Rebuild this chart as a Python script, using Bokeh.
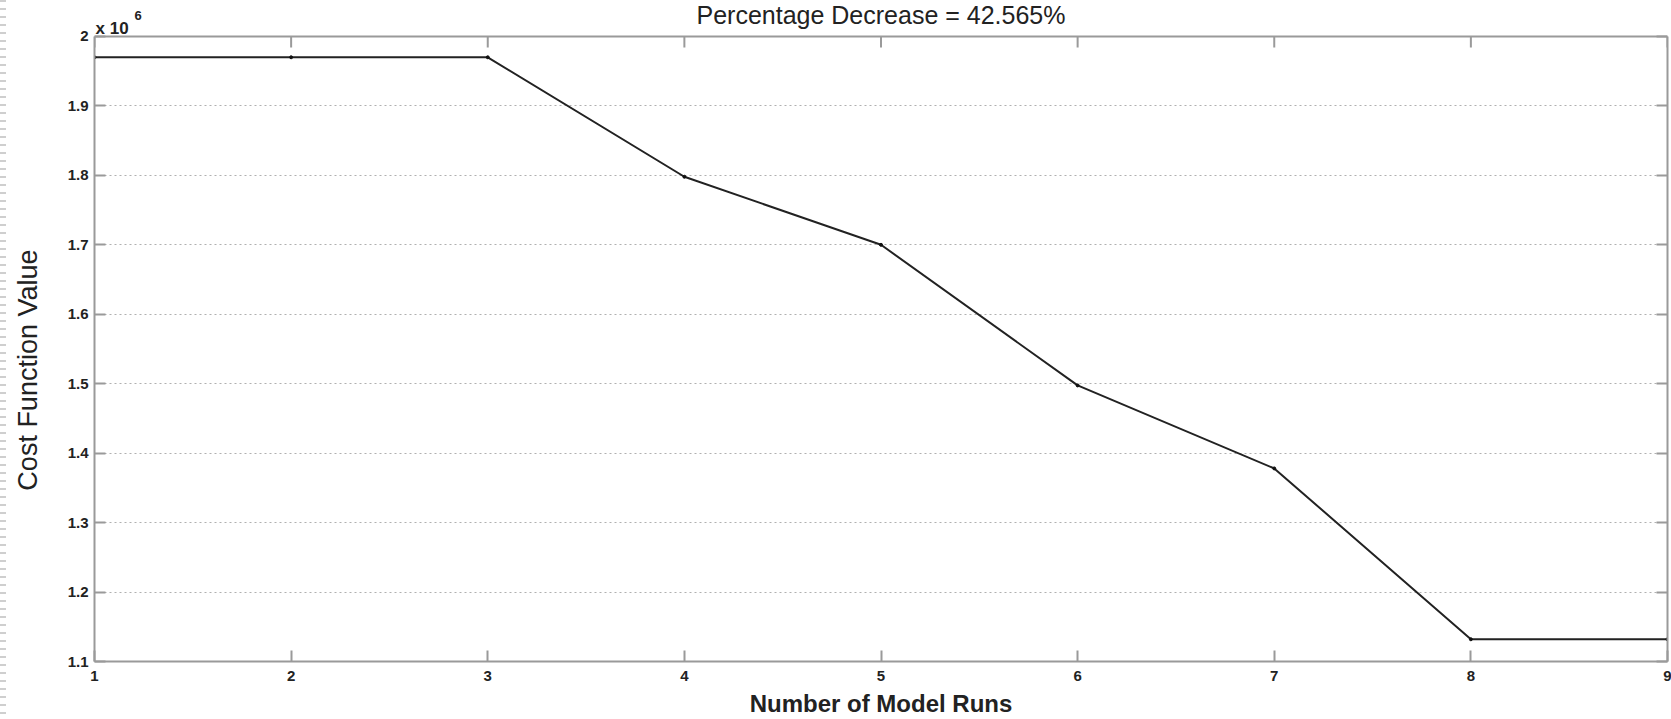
import math
from bokeh.plotting import figure
from bokeh.models import Range1d, FixedTicker, LinearAxis, Label, Div, Span
from bokeh.layouts import row
from bokeh.embed import file_html
from bokeh.resources import INLINE

# ---- data ----
model_runs = [1, 2, 3, 4, 5, 6, 7, 8, 9]
cost_values = [1.970e6, 1.970e6, 1.970e6, 1.798e6, 1.700e6, 1.4975e6, 1.378e6, 1.132e6, 1.132e6]
y_ticks = [1.1e6, 1.2e6, 1.3e6, 1.4e6, 1.5e6, 1.6e6, 1.7e6, 1.8e6, 1.9e6, 2.0e6]
y_tick_labels = ["1.1", "1.2", "1.3", "1.4", "1.5", "1.6", "1.7", "1.8", "1.9", "2"]
x_ticks = [1, 2, 3, 4, 5, 6, 7, 8, 9]
title_text = "Percentage Decrease = 42.565%"
x_label = "Number of Model Runs"
y_label = "Cost Function Value"
exponent_base = "x 10"
exponent_power = "6"

# ---- layout constants (pixels) ----
H = 719
EDGE_W = 6
LABEL_W = 50
FRAME_LEFT = 94
FRAME_H = 662          # frame spans whole top of canvas down to the x axis
AXES_TOP_PX = 36       # where the axes box top sits
y_lo, y_hi = y_ticks[0], y_ticks[-1]
per_px = (y_hi - y_lo) / (FRAME_H - AXES_TOP_PX)
y_view_top = y_hi + AXES_TOP_PX * per_px

axis_color = "#9a9a9a"
text_color = "#222222"
tick_font = "Liberation Sans"

main_w = 1671 - EDGE_W - LABEL_W
p = figure(width=main_w, height=H, output_backend="svg", toolbar_location=None,
           x_range=Range1d(x_ticks[0], x_ticks[-1]), y_range=Range1d(y_lo, y_view_top),
           x_axis_location=None, y_axis_location=None,
           min_border_left=FRAME_LEFT - EDGE_W - LABEL_W, min_border_right=4,
           min_border_top=0, min_border_bottom=H - FRAME_H)
p.outline_line_color = None

left = LinearAxis(ticker=FixedTicker(ticks=y_ticks), bounds=(y_lo, y_hi),
                  major_label_overrides={t: l for t, l in zip(y_ticks, y_tick_labels)})
bottom = LinearAxis(ticker=FixedTicker(ticks=x_ticks))
right = LinearAxis(ticker=FixedTicker(ticks=y_ticks), bounds=(y_lo, y_hi))
for ax in (left, bottom, right):
    ax.major_tick_in = 11
    ax.major_tick_out = 0
    ax.minor_tick_in = 0
    ax.minor_tick_out = 0
    ax.axis_line_color = axis_color
    ax.axis_line_width = 2
    ax.major_tick_line_color = axis_color
    ax.major_tick_line_width = 2
    ax.major_label_text_font = tick_font
    ax.major_label_text_font_style = "bold"
    ax.major_label_text_font_size = "15px"
    ax.major_label_text_color = text_color
right.major_label_text_alpha = 0
right.major_label_text_font_size = "1px"
right.major_label_standoff = 0

left.major_label_standoff = 6
bottom.major_label_standoff = 9
bottom.axis_label = x_label
bottom.axis_label_text_font = "Liberation Sans"
bottom.axis_label_text_font_size = "24px"
bottom.axis_label_text_font_style = "bold"
bottom.axis_label_text_color = text_color
bottom.axis_label_standoff = 6

p.add_layout(left, "left")
p.add_layout(bottom, "below")
p.add_layout(right, "right")

# top edge of the axes box with inward ticks
p.add_layout(Span(location=y_hi, dimension="width", line_color=axis_color, line_width=2))
p.ray(x=x_ticks, y=[y_hi] * len(x_ticks), length=11, length_units="screen",
      angle=-math.pi / 2, line_color=axis_color, line_width=2)

p.xgrid.visible = False
p.ygrid.ticker = FixedTicker(ticks=y_ticks[:-1])
p.ygrid.grid_line_color = "#b0b0b0"
p.ygrid.grid_line_dash = "2 3"
p.ygrid.grid_line_width = 1

p.line(model_runs, cost_values, line_color="#222222", line_width=2)
p.scatter(model_runs, cost_values, size=3, color="#111111")

x_mid = (x_ticks[0] + x_ticks[-1]) / 2
p.add_layout(Label(x=x_mid, y=y_hi, text=title_text, y_offset=21,
                   text_align="center", text_baseline="middle",
                   text_font="Liberation Sans", text_font_size="25px",
                   text_color=text_color))
p.add_layout(Label(x=x_ticks[0], y=y_hi, text=exponent_base, x_offset=1, y_offset=8,
                   text_baseline="middle",
                   text_font="Liberation Sans", text_font_style="bold",
                   text_font_size="17px", text_color=text_color))
p.add_layout(Label(x=x_ticks[0], y=y_hi, text=exponent_power, x_offset=40, y_offset=21,
                   text_baseline="middle",
                   text_font="Liberation Sans", text_font_style="bold",
                   text_font_size="13px", text_color=text_color))

# narrow strip holding the y-axis title
ylab = figure(width=LABEL_W, height=H, output_backend="svg", toolbar_location=None,
              x_range=Range1d(0, LABEL_W), y_range=Range1d(0, H),
              x_axis_location=None, y_axis_location=None,
              min_border=0, min_border_left=0, min_border_right=0,
              min_border_top=0, min_border_bottom=0)
ylab.outline_line_color = None
ylab.grid.visible = False
ylab.add_layout(Label(x=27 - EDGE_W, y=H - 402, text=y_label, angle=math.pi / 2,
                      text_align="center", text_baseline="middle",
                      text_font="Liberation Sans", text_font_size="27px",
                      text_color=text_color))

edge = Div(width=EDGE_W, height=H, styles={
    "background": "repeating-linear-gradient(to bottom, #cfcfcf 0px, #cfcfcf 2px, transparent 2px, transparent 8px)",
    "margin": "0"})

layout = row(edge, ylab, p, spacing=0)
open("out.html", "w").write(file_html(layout, INLINE))
